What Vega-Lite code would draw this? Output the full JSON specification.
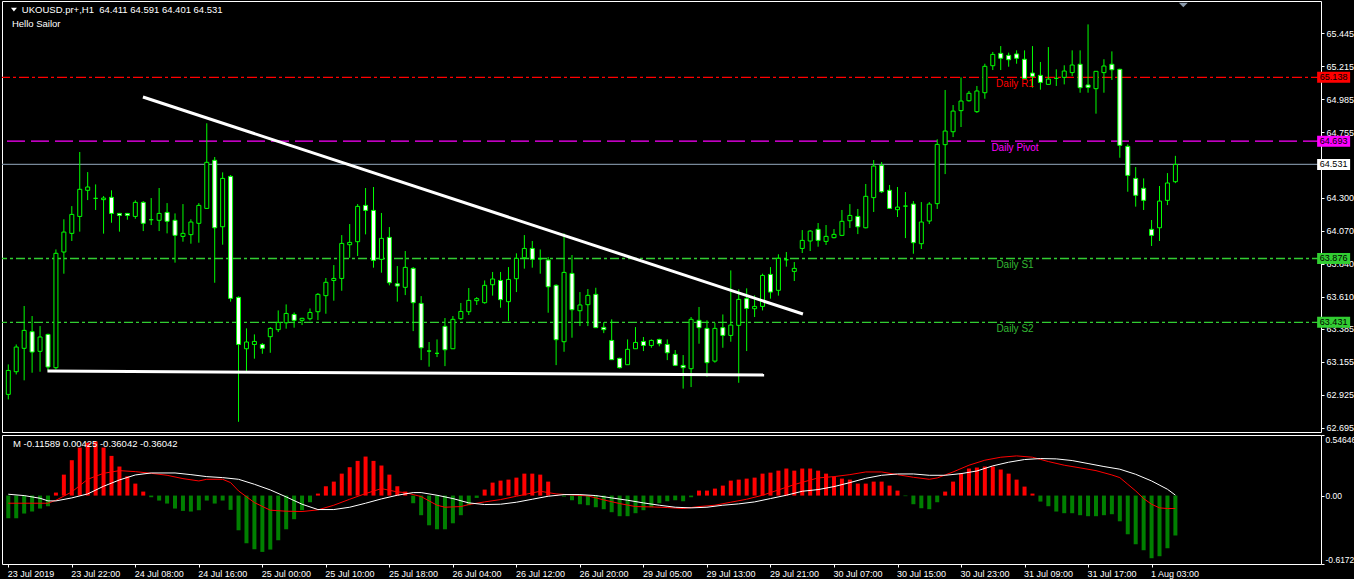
{
"$schema":"https://vega.github.io/schema/vega-lite/v6.json",
"background":"black",
"padding":0,
"spacing":3,
"bounds":"flush",
"resolve":{"scale":{"color":"independent","fill":"independent","stroke":"independent","strokeDash":"independent"}},
"config":{"view":{"stroke":"#ffffff","strokeWidth":1},"axis":{"labelColor":"white","tickColor":"white","domain":false,"grid":false,"title":null,"labelFont":"Liberation Sans","labelFontSize":9,"tickSize":3,"labelPadding":2,"labelOverlap":false,"labelBound":false}},
"datasets":{
"candles":[
{"k":0,"o":62.929,"h":63.138,"l":62.894,"c":63.096},{"k":1,"o":63.087,"h":63.277,"l":63.068,"c":63.259},{"k":2,"o":63.25,"h":63.545,"l":63.027,"c":63.375},{"k":3,"o":63.366,"h":63.475,"l":63.08,"c":63.224},{"k":4,"o":63.229,"h":63.405,"l":63.087,"c":63.329},{"k":5,"o":63.347,"h":63.352,"l":63.096,"c":63.12},{"k":6,"o":63.115,"h":63.939,"l":63.103,"c":63.912},{"k":7,"o":63.921,"h":64.149,"l":63.77,"c":64.06},{"k":8,"o":64.051,"h":64.241,"l":63.998,"c":64.183},{"k":9,"o":64.169,"h":64.618,"l":64.063,"c":64.358},
{"k":10,"o":64.351,"h":64.478,"l":64.283,"c":64.374},{"k":11,"o":64.295,"h":64.392,"l":64.214,"c":64.295},{"k":12,"o":64.286,"h":64.311,"l":64.049,"c":64.297},{"k":13,"o":64.302,"h":64.351,"l":64.125,"c":64.19},{"k":14,"o":64.19,"h":64.193,"l":64.063,"c":64.176},{"k":15,"o":64.19,"h":64.193,"l":64.146,"c":64.176},{"k":16,"o":64.169,"h":64.281,"l":64.153,"c":64.267},{"k":17,"o":64.267,"h":64.276,"l":64.067,"c":64.121},{"k":18,"o":64.146,"h":64.297,"l":64.109,"c":64.146},{"k":19,"o":64.142,"h":64.367,"l":64.067,"c":64.19},
{"k":20,"o":64.197,"h":64.262,"l":64.051,"c":64.135},{"k":21,"o":64.142,"h":64.19,"l":63.847,"c":64.037},{"k":22,"o":64.03,"h":64.255,"l":63.993,"c":64.051},{"k":23,"o":64.042,"h":64.149,"l":63.979,"c":64.13},{"k":24,"o":64.121,"h":64.262,"l":63.986,"c":64.246},{"k":25,"o":64.225,"h":64.818,"l":64.221,"c":64.546},{"k":26,"o":64.56,"h":64.583,"l":63.707,"c":64.09},{"k":27,"o":64.097,"h":64.476,"l":63.972,"c":64.434},{"k":28,"o":64.448,"h":64.457,"l":63.575,"c":63.598},{"k":29,"o":63.605,"h":63.612,"l":62.738,"c":63.277},
{"k":30,"o":63.247,"h":63.389,"l":63.092,"c":63.294},{"k":31,"o":63.277,"h":63.347,"l":63.178,"c":63.298},{"k":32,"o":63.277,"h":63.287,"l":63.212,"c":63.25},{"k":33,"o":63.331,"h":63.398,"l":63.219,"c":63.389},{"k":34,"o":63.38,"h":63.514,"l":63.363,"c":63.431},{"k":35,"o":63.428,"h":63.556,"l":63.387,"c":63.493},{"k":36,"o":63.486,"h":63.5,"l":63.394,"c":63.445},{"k":37,"o":63.445,"h":63.463,"l":63.412,"c":63.459},{"k":38,"o":63.456,"h":63.528,"l":63.445,"c":63.5},{"k":39,"o":63.505,"h":63.635,"l":63.447,"c":63.626},
{"k":40,"o":63.617,"h":63.74,"l":63.491,"c":63.71},{"k":41,"o":63.723,"h":63.83,"l":63.582,"c":63.737},{"k":42,"o":63.737,"h":64.039,"l":63.651,"c":63.981},{"k":43,"o":63.972,"h":64.116,"l":63.881,"c":63.988},{"k":44,"o":63.993,"h":64.255,"l":63.893,"c":64.239},{"k":45,"o":64.246,"h":64.367,"l":64.044,"c":64.211},{"k":46,"o":64.211,"h":64.374,"l":63.812,"c":63.863},{"k":47,"o":63.87,"h":64.193,"l":63.777,"c":64.016},{"k":48,"o":64.023,"h":64.095,"l":63.689,"c":63.707},{"k":49,"o":63.7,"h":63.823,"l":63.575,"c":63.684},
{"k":50,"o":63.675,"h":63.928,"l":63.621,"c":63.814},{"k":51,"o":63.807,"h":63.816,"l":63.37,"c":63.568},{"k":52,"o":63.563,"h":63.614,"l":63.168,"c":63.254},{"k":53,"o":63.231,"h":63.294,"l":63.122,"c":63.231},{"k":54,"o":63.215,"h":63.312,"l":63.189,"c":63.215},{"k":55,"o":63.403,"h":63.461,"l":63.126,"c":63.24},{"k":56,"o":63.247,"h":63.475,"l":63.247,"c":63.452},{"k":57,"o":63.456,"h":63.566,"l":63.449,"c":63.507},{"k":58,"o":63.505,"h":63.67,"l":63.482,"c":63.584},{"k":59,"o":63.582,"h":63.607,"l":63.552,"c":63.596},
{"k":60,"o":63.568,"h":63.723,"l":63.561,"c":63.689},{"k":61,"o":63.693,"h":63.782,"l":63.617,"c":63.733},{"k":62,"o":63.723,"h":63.782,"l":63.533,"c":63.589},{"k":63,"o":63.575,"h":63.816,"l":63.44,"c":63.73},{"k":64,"o":63.735,"h":63.912,"l":63.642,"c":63.877},{"k":65,"o":63.881,"h":64.039,"l":63.805,"c":63.946},{"k":66,"o":63.946,"h":63.998,"l":63.812,"c":63.87},{"k":67,"o":63.874,"h":63.939,"l":63.77,"c":63.874},{"k":68,"o":63.865,"h":63.886,"l":63.498,"c":63.679},{"k":69,"o":63.689,"h":63.696,"l":63.133,"c":63.31},
{"k":70,"o":63.296,"h":64.051,"l":63.226,"c":63.779},{"k":71,"o":63.772,"h":63.9,"l":63.324,"c":63.519},{"k":72,"o":63.512,"h":63.642,"l":63.405,"c":63.552},{"k":73,"o":63.554,"h":63.663,"l":63.405,"c":63.619},{"k":74,"o":63.626,"h":63.672,"l":63.394,"c":63.394},{"k":75,"o":63.396,"h":63.433,"l":63.356,"c":63.38},{"k":76,"o":63.305,"h":63.452,"l":63.171,"c":63.171},{"k":77,"o":63.18,"h":63.184,"l":63.11,"c":63.115},{"k":78,"o":63.136,"h":63.312,"l":63.136,"c":63.243},{"k":79,"o":63.247,"h":63.398,"l":63.247,"c":63.291},
{"k":80,"o":63.298,"h":63.329,"l":63.231,"c":63.27},{"k":81,"o":63.27,"h":63.312,"l":63.254,"c":63.305},{"k":82,"o":63.312,"h":63.317,"l":63.264,"c":63.282},{"k":83,"o":63.277,"h":63.312,"l":63.168,"c":63.219},{"k":84,"o":63.208,"h":63.238,"l":63.126,"c":63.131},{"k":85,"o":63.131,"h":63.203,"l":62.969,"c":63.115},{"k":86,"o":63.108,"h":63.468,"l":62.98,"c":63.452},{"k":87,"o":63.445,"h":63.538,"l":63.282,"c":63.394},{"k":88,"o":63.389,"h":63.445,"l":63.052,"c":63.15},{"k":89,"o":63.161,"h":63.428,"l":63.15,"c":63.389},
{"k":90,"o":63.394,"h":63.486,"l":63.254,"c":63.34},{"k":91,"o":63.34,"h":63.793,"l":63.296,"c":63.412},{"k":92,"o":63.41,"h":63.661,"l":63.01,"c":63.591},{"k":93,"o":63.596,"h":63.668,"l":63.231,"c":63.528},{"k":94,"o":63.526,"h":63.619,"l":63.468,"c":63.542},{"k":95,"o":63.542,"h":63.77,"l":63.514,"c":63.758},{"k":96,"o":63.765,"h":63.816,"l":63.596,"c":63.642},{"k":97,"o":63.654,"h":63.905,"l":63.617,"c":63.877},{"k":98,"o":63.867,"h":63.921,"l":63.819,"c":63.867},{"k":99,"o":63.786,"h":63.851,"l":63.719,"c":63.807},
{"k":100,"o":63.946,"h":64.074,"l":63.914,"c":64.002},{"k":101,"o":63.998,"h":64.074,"l":63.928,"c":64.067},{"k":102,"o":64.079,"h":64.123,"l":63.958,"c":64.002},{"k":103,"o":63.995,"h":64.109,"l":63.97,"c":64.03},{"k":104,"o":64.021,"h":64.081,"l":64.016,"c":64.044},{"k":105,"o":64.037,"h":64.214,"l":64.032,"c":64.135},{"k":106,"o":64.139,"h":64.255,"l":64.088,"c":64.176},{"k":107,"o":64.169,"h":64.221,"l":64.046,"c":64.097},{"k":108,"o":64.09,"h":64.395,"l":64.086,"c":64.309},{"k":109,"o":64.3,"h":64.562,"l":64.2,"c":64.52},
{"k":110,"o":64.525,"h":64.548,"l":64.332,"c":64.341},{"k":111,"o":64.351,"h":64.388,"l":64.221,"c":64.225},{"k":112,"o":64.216,"h":64.374,"l":64.165,"c":64.234},{"k":113,"o":64.241,"h":64.339,"l":64.018,"c":64.241},{"k":114,"o":64.255,"h":64.276,"l":63.909,"c":63.986},{"k":115,"o":63.979,"h":64.269,"l":63.942,"c":64.13},{"k":116,"o":64.137,"h":64.269,"l":64.116,"c":64.255},{"k":117,"o":64.258,"h":64.706,"l":64.221,"c":64.671},{"k":118,"o":64.669,"h":65.05,"l":64.464,"c":64.764},{"k":119,"o":64.759,"h":64.945,"l":64.722,"c":64.903},
{"k":120,"o":64.906,"h":65.138,"l":64.792,"c":64.973},{"k":121,"o":64.975,"h":65.043,"l":64.969,"c":65.027},{"k":122,"o":64.899,"h":65.078,"l":64.89,"c":65.043},{"k":123,"o":65.031,"h":65.233,"l":64.989,"c":65.215},{"k":124,"o":65.219,"h":65.315,"l":65.189,"c":65.298},{"k":125,"o":65.305,"h":65.356,"l":65.189,"c":65.271},{"k":126,"o":65.291,"h":65.31,"l":65.212,"c":65.261},{"k":127,"o":65.301,"h":65.326,"l":65.233,"c":65.271},{"k":128,"o":65.264,"h":65.326,"l":65.131,"c":65.131},{"k":129,"o":65.168,"h":65.356,"l":65.066,"c":65.145},
{"k":130,"o":65.152,"h":65.245,"l":65.052,"c":65.103},{"k":131,"o":65.089,"h":65.349,"l":65.089,"c":65.126},{"k":132,"o":65.131,"h":65.194,"l":65.078,"c":65.131},{"k":133,"o":65.138,"h":65.222,"l":65.089,"c":65.182},{"k":134,"o":65.171,"h":65.326,"l":65.147,"c":65.224},{"k":135,"o":65.229,"h":65.326,"l":65.031,"c":65.066},{"k":136,"o":65.085,"h":65.507,"l":65.031,"c":65.068},{"k":137,"o":65.059,"h":65.18,"l":64.885,"c":65.18},{"k":138,"o":65.171,"h":65.264,"l":65.031,"c":65.217},{"k":139,"o":65.229,"h":65.319,"l":65.12,"c":65.191},
{"k":140,"o":65.194,"h":65.198,"l":64.578,"c":64.664},{"k":141,"o":64.657,"h":64.671,"l":64.341,"c":64.455},{"k":142,"o":64.434,"h":64.513,"l":64.237,"c":64.316},{"k":143,"o":64.365,"h":64.434,"l":64.214,"c":64.281},{"k":144,"o":64.079,"h":64.144,"l":63.963,"c":64.037},{"k":145,"o":64.09,"h":64.381,"l":63.998,"c":64.276},{"k":146,"o":64.281,"h":64.471,"l":64.248,"c":64.402},{"k":147,"o":64.411,"h":64.591,"l":64.401,"c":64.531}
],
"levels":[{"name":"Daily R1","price":65.138},{"name":"Daily Pivot","price":64.693},{"name":"Bid","price":64.531},{"name":"Daily S1","price":63.876},{"name":"Daily S2","price":63.431}],
"trend":[{"line":"res","k":16.96,"p":65.001},{"line":"res","k":100.09,"p":63.489},{"line":"sup","k":4.93,"p":63.092},{"line":"sup","k":95.2,"p":63.064}],
"hist":[
{"k":0,"v":-0.204},{"k":1,"v":-0.204},{"k":2,"v":-0.162},{"k":3,"v":-0.144},{"k":4,"v":-0.117},{"k":5,"v":-0.096},{"k":6,"v":0.027},{"k":7,"v":0.189},{"k":8,"v":0.319},{"k":9,"v":0.433},
{"k":10,"v":0.478},{"k":11,"v":0.487},{"k":12,"v":0.433},{"k":13,"v":0.358},{"k":14,"v":0.262},{"k":15,"v":0.174},{"k":16,"v":0.108},{"k":17,"v":0.036},{"k":18,"v":-0.015},{"k":19,"v":-0.045},
{"k":20,"v":-0.072},{"k":21,"v":-0.117},{"k":22,"v":-0.138},{"k":23,"v":-0.144},{"k":24,"v":-0.132},{"k":25,"v":-0.045},{"k":26,"v":-0.072},{"k":27,"v":-0.045},{"k":28,"v":-0.129},{"k":29,"v":-0.313},
{"k":30,"v":-0.43},{"k":31,"v":-0.484},{"k":32,"v":-0.508},{"k":33,"v":-0.487},{"k":34,"v":-0.403},{"k":35,"v":-0.304},{"k":36,"v":-0.213},{"k":37,"v":-0.132},{"k":38,"v":-0.06},{"k":39,"v":0.018},
{"k":40,"v":0.084},{"k":41,"v":0.126},{"k":42,"v":0.198},{"k":43,"v":0.256},{"k":44,"v":0.313},{"k":45,"v":0.352},{"k":46,"v":0.313},{"k":47,"v":0.271},{"k":48,"v":0.189},{"k":49,"v":0.084},
{"k":50,"v":0.036},{"k":51,"v":-0.069},{"k":52,"v":-0.177},{"k":53,"v":-0.268},{"k":54,"v":-0.304},{"k":55,"v":-0.304},{"k":56,"v":-0.25},{"k":57,"v":-0.177},{"k":58,"v":-0.087},{"k":59,"v":-0.021},
{"k":60,"v":0.054},{"k":61,"v":0.117},{"k":62,"v":0.135},{"k":63,"v":0.144},{"k":64,"v":0.162},{"k":65,"v":0.198},{"k":66,"v":0.198},{"k":67,"v":0.189},{"k":68,"v":0.126},{"k":69,"v":0.005},
{"k":70,"v":-0.009},{"k":71,"v":-0.042},{"k":72,"v":-0.078},{"k":73,"v":-0.087},{"k":74,"v":-0.105},{"k":75,"v":-0.123},{"k":76,"v":-0.15},{"k":77,"v":-0.186},{"k":78,"v":-0.186},{"k":79,"v":-0.159},
{"k":80,"v":-0.132},{"k":81,"v":-0.105},{"k":82,"v":-0.069},{"k":83,"v":-0.051},{"k":84,"v":-0.042},{"k":85,"v":-0.051},{"k":86,"v":-0.015},{"k":87,"v":0.045},{"k":88,"v":0.045},{"k":89,"v":0.063},
{"k":90,"v":0.09},{"k":91,"v":0.135},{"k":92,"v":0.144},{"k":93,"v":0.153},{"k":94,"v":0.162},{"k":95,"v":0.198},{"k":96,"v":0.207},{"k":97,"v":0.225},{"k":98,"v":0.244},{"k":99,"v":0.225},
{"k":100,"v":0.244},{"k":101,"v":0.244},{"k":102,"v":0.225},{"k":103,"v":0.198},{"k":104,"v":0.171},{"k":105,"v":0.153},{"k":106,"v":0.144},{"k":107,"v":0.108},{"k":108,"v":0.108},{"k":109,"v":0.126},
{"k":110,"v":0.126},{"k":111,"v":0.09},{"k":112,"v":0.045},{"k":113,"v":-0.005},{"k":114,"v":-0.078},{"k":115,"v":-0.114},{"k":116,"v":-0.123},{"k":117,"v":-0.06},{"k":118,"v":0.036},{"k":119,"v":0.126},
{"k":120,"v":0.198},{"k":121,"v":0.244},{"k":122,"v":0.253},{"k":123,"v":0.262},{"k":124,"v":0.262},{"k":125,"v":0.235},{"k":126,"v":0.198},{"k":127,"v":0.144},{"k":128,"v":0.081},{"k":129,"v":0.018},
{"k":130,"v":-0.054},{"k":131,"v":-0.096},{"k":132,"v":-0.144},{"k":133,"v":-0.159},{"k":134,"v":-0.159},{"k":135,"v":-0.177},{"k":136,"v":-0.186},{"k":137,"v":-0.186},{"k":138,"v":-0.177},{"k":139,"v":-0.168},
{"k":140,"v":-0.232},{"k":141,"v":-0.349},{"k":142,"v":-0.439},{"k":143,"v":-0.493},{"k":144,"v":-0.565},{"k":145,"v":-0.547},{"k":146,"v":-0.475},{"k":147,"v":-0.36}
],
"sig":[
{"s":"white","k":0,"v":0.012},{"s":"white","k":2,"v":0.0},{"s":"white","k":4,"v":-0.024},{"s":"white","k":5,"v":-0.048},{"s":"white","k":6,"v":-0.048},{"s":"white","k":8,"v":-0.021},{"s":"white","k":10,"v":0.015},{"s":"white","k":12,"v":0.084},{"s":"white","k":14,"v":0.141},{"s":"white","k":16,"v":0.186},{"s":"white","k":18,"v":0.204},{"s":"white","k":21,"v":0.204},{"s":"white","k":23,"v":0.189},{"s":"white","k":25,"v":0.171},{"s":"white","k":27,"v":0.162},{"s":"white","k":29,"v":0.147},{"s":"white","k":31,"v":0.102},{"s":"white","k":33,"v":0.051},{"s":"white","k":35,"v":-0.012},{"s":"white","k":37,"v":-0.078},{"s":"white","k":39,"v":-0.126},{"s":"white","k":41,"v":-0.126},{"s":"white","k":43,"v":-0.105},{"s":"white","k":45,"v":-0.069},{"s":"white","k":47,"v":-0.03},{"s":"white","k":49,"v":0.003},{"s":"white","k":51,"v":0.027},{"s":"white","k":52,"v":0.027},{"s":"white","k":54,"v":0.003},{"s":"white","k":56,"v":-0.027},{"s":"white","k":58,"v":-0.066},{"s":"white","k":60,"v":-0.081},{"s":"white","k":62,"v":-0.078},{"s":"white","k":64,"v":-0.06},{"s":"white","k":66,"v":-0.033},{"s":"white","k":68,"v":-0.006},{"s":"white","k":70,"v":0.009},{"s":"white","k":72,"v":0.009},{"s":"white","k":74,"v":0.0},{"s":"white","k":76,"v":-0.021},{"s":"white","k":78,"v":-0.042},{"s":"white","k":80,"v":-0.066},{"s":"white","k":82,"v":-0.087},{"s":"white","k":84,"v":-0.105},{"s":"white","k":86,"v":-0.111},{"s":"white","k":88,"v":-0.105},{"s":"white","k":90,"v":-0.087},{"s":"white","k":92,"v":-0.075},{"s":"white","k":94,"v":-0.057},{"s":"white","k":96,"v":-0.027},{"s":"white","k":98,"v":0.003},{"s":"white","k":100,"v":0.039},{"s":"white","k":102,"v":0.054},{"s":"white","k":104,"v":0.081},{"s":"white","k":106,"v":0.117},{"s":"white","k":108,"v":0.156},{"s":"white","k":110,"v":0.183},{"s":"white","k":112,"v":0.195},{"s":"white","k":114,"v":0.195},{"s":"white","k":116,"v":0.183},{"s":"white","k":118,"v":0.183},{"s":"white","k":120,"v":0.198},{"s":"white","k":122,"v":0.222},{"s":"white","k":124,"v":0.268},{"s":"white","k":126,"v":0.301},{"s":"white","k":128,"v":0.325},{"s":"white","k":130,"v":0.334},{"s":"white","k":132,"v":0.331},{"s":"white","k":134,"v":0.316},{"s":"white","k":136,"v":0.289},{"s":"white","k":138,"v":0.262},{"s":"white","k":140,"v":0.238},{"s":"white","k":142,"v":0.192},{"s":"white","k":144,"v":0.132},{"s":"white","k":146,"v":0.057},{"s":"white","k":147,"v":0.004},
{"s":"red","k":0,"v":-0.069},{"s":"red","k":3,"v":-0.069},{"s":"red","k":5,"v":-0.069},{"s":"red","k":6,"v":-0.042},{"s":"red","k":8,"v":0.033},{"s":"red","k":10,"v":0.147},{"s":"red","k":12,"v":0.201},{"s":"red","k":14,"v":0.225},{"s":"red","k":16,"v":0.216},{"s":"red","k":18,"v":0.201},{"s":"red","k":20,"v":0.183},{"s":"red","k":22,"v":0.153},{"s":"red","k":24,"v":0.132},{"s":"red","k":25,"v":0.147},{"s":"red","k":27,"v":0.147},{"s":"red","k":28,"v":0.117},{"s":"red","k":29,"v":0.042},{"s":"red","k":31,"v":-0.063},{"s":"red","k":33,"v":-0.132},{"s":"red","k":35,"v":-0.141},{"s":"red","k":37,"v":-0.144},{"s":"red","k":39,"v":-0.129},{"s":"red","k":41,"v":-0.087},{"s":"red","k":43,"v":-0.033},{"s":"red","k":45,"v":0.018},{"s":"red","k":47,"v":0.063},{"s":"red","k":49,"v":0.033},{"s":"red","k":50,"v":0.027},{"s":"red","k":52,"v":-0.009},{"s":"red","k":54,"v":-0.087},{"s":"red","k":55,"v":-0.105},{"s":"red","k":57,"v":-0.099},{"s":"red","k":58,"v":-0.081},{"s":"red","k":60,"v":-0.057},{"s":"red","k":62,"v":-0.036},{"s":"red","k":64,"v":-0.006},{"s":"red","k":66,"v":0.024},{"s":"red","k":67,"v":0.039},{"s":"red","k":69,"v":0.015},{"s":"red","k":71,"v":0.006},{"s":"red","k":73,"v":-0.003},{"s":"red","k":75,"v":-0.039},{"s":"red","k":77,"v":-0.072},{"s":"red","k":79,"v":-0.099},{"s":"red","k":81,"v":-0.102},{"s":"red","k":83,"v":-0.108},{"s":"red","k":85,"v":-0.117},{"s":"red","k":87,"v":-0.099},{"s":"red","k":89,"v":-0.087},{"s":"red","k":91,"v":-0.06},{"s":"red","k":93,"v":-0.033},{"s":"red","k":95,"v":0.003},{"s":"red","k":97,"v":0.051},{"s":"red","k":99,"v":0.099},{"s":"red","k":100,"v":0.12},{"s":"red","k":102,"v":0.159},{"s":"red","k":104,"v":0.171},{"s":"red","k":106,"v":0.189},{"s":"red","k":108,"v":0.213},{"s":"red","k":110,"v":0.213},{"s":"red","k":112,"v":0.189},{"s":"red","k":114,"v":0.165},{"s":"red","k":116,"v":0.147},{"s":"red","k":117,"v":0.159},{"s":"red","k":119,"v":0.213},{"s":"red","k":121,"v":0.274},{"s":"red","k":123,"v":0.319},{"s":"red","k":125,"v":0.346},{"s":"red","k":127,"v":0.358},{"s":"red","k":129,"v":0.346},{"s":"red","k":131,"v":0.307},{"s":"red","k":133,"v":0.274},{"s":"red","k":135,"v":0.25},{"s":"red","k":137,"v":0.225},{"s":"red","k":139,"v":0.186},{"s":"red","k":140,"v":0.162},{"s":"red","k":141,"v":0.102},{"s":"red","k":142,"v":0.042},{"s":"red","k":143,"v":-0.027},{"s":"red","k":144,"v":-0.078},{"s":"red","k":145,"v":-0.111},{"s":"red","k":146,"v":-0.117},{"s":"red","k":147,"v":-0.116}
],
"notes":[{"title":"UKOUSD.pr+,H1\u00a0\u00a064.411 64.591 64.401 64.531","sub":"Hello Sailor","macd":"M -0.11589 0.00425 -0.36042 -0.36042"}]
},
"vconcat":[
{
"width":1319,"height":431,
"layer":[
{"data":{"name":"levels"},"mark":{"type":"rule","strokeWidth":1.3},
 "encoding":{"y":{"field":"price","type":"quantitative","scale":{"domain":[62.667,65.67],"nice":false,"zero":false},
   "axis":{"orient":"right","labelOverlap":false,"tickCount":30,"values":[65.445,65.215,64.985,64.755,64.3,64.07,63.84,63.61,63.385,63.155,62.925,62.695],"format":".3f"}},
  "stroke":{"field":"name","type":"nominal","legend":null,"scale":{"domain":["Daily R1","Daily Pivot","Bid","Daily S1","Daily S2"],"range":["#ff0000","#ff00ff","#778899","#32cd32","#32cd32"]}},
  "strokeDash":{"field":"name","type":"nominal","legend":null,"scale":{"domain":["Daily R1","Daily Pivot","Bid","Daily S1","Daily S2"],"range":[[10,3,3,3],[18,6],[1,0],[9,3,3,3],[9,3,3,3]]}}}},
{"data":{"name":"candles"},"mark":{"type":"rule","color":"#00ff00","strokeWidth":1,"clip":true},
 "encoding":{"x":{"field":"k","type":"quantitative","scale":{"domain":[-0.1625,164.71],"nice":false,"zero":false},"axis":null},
  "y":{"field":"l","type":"quantitative"},"y2":{"field":"h"}}},
{"data":{"name":"candles"},"mark":{"type":"bar","width":4,"stroke":"#00ff00","strokeWidth":1,"clip":true},
 "encoding":{"x":{"field":"k","type":"quantitative"},
  "y":{"field":"o","type":"quantitative"},"y2":{"field":"c"},
  "fill":{"condition":{"test":"datum.c < datum.o","value":"#ffffff"},"value":"#000000"}}},
{"data":{"name":"trend"},"mark":{"type":"line","color":"#ffffff","strokeWidth":3,"clip":true},
 "encoding":{"x":{"field":"k","type":"quantitative"},"y":{"field":"p","type":"quantitative"},"detail":{"field":"line"}}},
{"data":{"name":"levels"},"transform":[{"filter":"datum.name != 'Bid'"}],
 "mark":{"type":"text","align":"center","baseline":"top","dy":2,"font":"Liberation Sans","fontSize":10},
 "encoding":{"x":{"datum":126.8},"y":{"field":"price","type":"quantitative"},"text":{"field":"name"},
  "color":{"field":"name","type":"nominal","legend":null,"scale":{"domain":["Daily R1","Daily Pivot","Daily S1","Daily S2"],"range":["#ff0000","#ff00ff","#33b833","#33b833"]}}}},
{"data":{"name":"levels"},"mark":{"type":"tick","orient":"horizontal","size":33,"thickness":11,"opacity":1},
 "encoding":{"x":{"datum":166.93},"y":{"field":"price","type":"quantitative"},
  "fill":{"field":"name","type":"nominal","legend":null,"scale":{"domain":["Daily R1","Daily Pivot","Bid","Daily S1","Daily S2"],"range":["#ff0000","#ff00ff","#ffffff","#32cd32","#32cd32"]}}}},
{"data":{"name":"levels"},"mark":{"type":"text","align":"center","baseline":"middle","font":"Liberation Sans","fontSize":9,"color":"#000000"},
 "encoding":{"x":{"datum":166.93},"y":{"field":"price","type":"quantitative"},"text":{"field":"price","type":"quantitative","format":".3f"}}},
{"data":{"name":"notes"},"mark":{"type":"point","shape":"M-1,-0.6L1,-0.6L0,0.6Z","size":36,"filled":true,"color":"#ffffff","opacity":1},
 "encoding":{"x":{"datum":0.71},"y":{"datum":65.61}}},
{"data":{"name":"notes"},"mark":{"type":"point","shape":"M-1,-0.5L1,-0.5L0,0.5Z","size":81,"filled":true,"color":"#8a99aa","opacity":1},
 "encoding":{"x":{"datum":148.0},"y":{"datum":65.643}}},
{"data":{"name":"notes"},"mark":{"type":"text","align":"left","baseline":"middle","font":"Liberation Sans","fontSize":9.5,"color":"#ffffff"},
 "encoding":{"x":{"datum":1.71},"y":{"datum":65.607},"text":{"field":"title"}}},
{"data":{"name":"notes"},"mark":{"type":"text","align":"left","baseline":"middle","font":"Liberation Sans","fontSize":9.5,"color":"#ffffff"},
 "encoding":{"x":{"datum":0.46},"y":{"datum":65.51},"text":{"field":"sub"}}}
]
},
{
"width":1319,"height":129,
"layer":[
{"data":{"name":"hist"},"mark":{"type":"bar","width":4,"clip":true},
 "encoding":{"x":{"field":"k","type":"quantitative","scale":{"domain":[-0.1625,164.71],"nice":false,"zero":false},
   "axis":{"values":[0,8,16,24,32,40,48,56,64,72,80,88,96,104,112,120,128,136,144],"tickCount":40,"labelAlign":"left","labelFontSize":9,"labelFlush":false,"labelOffset":-1,
   "labelExpr":"['23 Jul 2019','23 Jul 22:00','24 Jul 08:00','24 Jul 16:00','25 Jul 00:00','25 Jul 10:00','25 Jul 18:00','26 Jul 04:00','26 Jul 12:00','26 Jul 20:00','29 Jul 05:00','29 Jul 13:00','29 Jul 21:00','30 Jul 07:00','30 Jul 15:00','30 Jul 23:00','31 Jul 09:00','31 Jul 17:00','1 Aug 03:00'][round(datum.value/8)]"}},
  "y":{"field":"v","type":"quantitative","scale":{"domain":[-0.6172,0.54646],"nice":false},
   "axis":{"orient":"right","values":[0.54646,0,-0.6172],"labelFlush":true,"labelFontSize":8.5,"labelPadding":1,
   "labelExpr":"datum.value > 0.5 ? '0.54646' : (datum.value < -0.5 ? '-0.6172' : '0.00')"}},
  "color":{"condition":{"test":"datum.v >= 0","value":"#ff0000"},"value":"#008000"}}},
{"data":{"name":"sig"},"transform":[{"filter":"datum.s == 'red'"}],"mark":{"type":"line","strokeWidth":1,"color":"#ff0000","clip":true},
 "encoding":{"x":{"field":"k","type":"quantitative"},"y":{"field":"v","type":"quantitative"}}},
{"data":{"name":"sig"},"transform":[{"filter":"datum.s == 'white'"}],"mark":{"type":"line","strokeWidth":1,"color":"#ffffff","clip":true},
 "encoding":{"x":{"field":"k","type":"quantitative"},"y":{"field":"v","type":"quantitative"}}},
{"data":{"name":"notes"},"mark":{"type":"text","align":"left","baseline":"middle","font":"Liberation Sans","fontSize":9.5,"color":"#ffffff"},
 "encoding":{"x":{"datum":0.59},"y":{"datum":0.469},"text":{"field":"macd"}}}
]
}
]
}
